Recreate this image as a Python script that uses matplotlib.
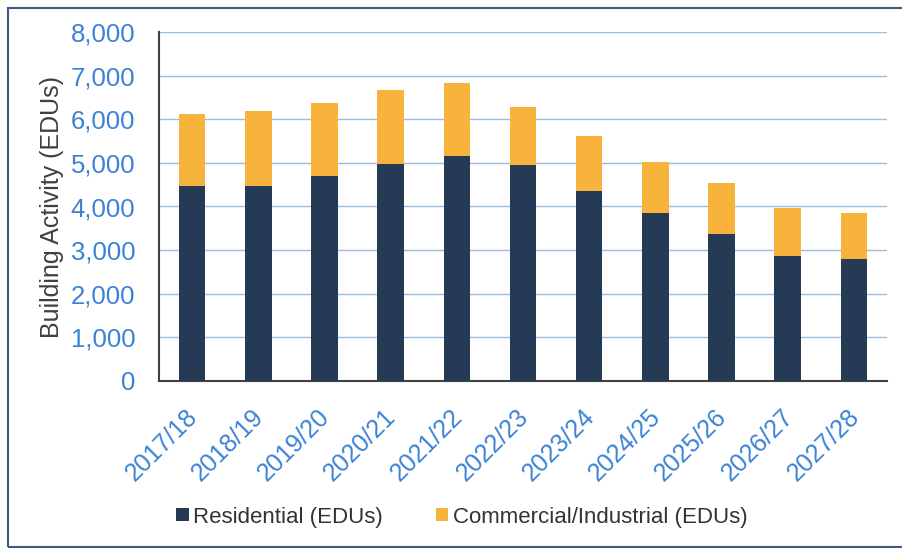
import numpy as np
import matplotlib.pyplot as plt
from matplotlib.patches import Rectangle
from matplotlib.ticker import FuncFormatter
from matplotlib.transforms import ScaledTranslation

plt.rcParams['font.family'] = ['Liberation Sans', 'DejaVu Sans']

# data
years = ['2017/18', '2018/19', '2019/20', '2020/21', '2021/22', '2022/23',
         '2023/24', '2024/25', '2025/26', '2026/27', '2027/28']
residential = [4480, 4460, 4690, 4980, 5150, 4950, 4360, 3850, 3370, 2870, 2790]
totals = [6120, 6190, 6370, 6670, 6830, 6270, 5620, 5020, 4530, 3970, 3860]
commercial = [t - r for t, r in zip(totals, residential)]

navy = '#253a55'
orange = '#f8b33d'
blue = '#3b82d6'

fig = plt.figure(figsize=(9.02, 5.48), dpi=100)
ax = fig.add_axes([159/902, 1 - 381/548, (887-159)/902, (381-32)/548])

x = np.arange(len(years))
ax.bar(x, residential, width=0.4, color=navy, label='Residential (EDUs)', zorder=3)
ax.bar(x, commercial, width=0.4, bottom=residential, color=orange,
       label='Commercial/Industrial (EDUs)', zorder=3)

ax.set_xlim(-0.5, len(years) - 0.5)
ax.set_ylim(0, 8000)
ax.set_yticks(range(0, 8001, 1000))
ax.yaxis.set_major_formatter(FuncFormatter(lambda v, p: f'{int(v):,}'))
ax.grid(axis='y', color='#9bbbe0', linewidth=1.0, zorder=0)

ax.set_xticks(x)
ax.set_xticklabels(years, rotation=45, ha='right', rotation_mode='anchor')
ax.tick_params(axis='both', length=0, labelcolor=blue)
ax.tick_params(axis='y', pad=17, labelsize=18.5)
ax.tick_params(axis='x', pad=17, labelsize=18)
# shift the slanted labels a bit to the left, as in the original
shift = ScaledTranslation(-0.07, 0, fig.dpi_scale_trans)
for lab in ax.get_xticklabels():
    lab.set_transform(lab.get_transform() + shift)

ax.set_ylabel('Building Activity (EDUs)', fontsize=18, color='#404040')
ax.yaxis.set_label_coords(-0.13, 0.5)

for s in ['top', 'right']:
    ax.spines[s].set_visible(False)
ax.spines['left'].set_color('#404040')
ax.spines['bottom'].set_color('#404040')
ax.spines['left'].set_linewidth(1.5)
ax.spines['bottom'].set_linewidth(1.5)

fig.legend(loc='center', bbox_to_anchor=(462/902, 1 - 517/548), ncol=2,
           frameon=False, fontsize=16, handlelength=0.55, handleheight=0.55,
           handletextpad=0.2, columnspacing=2.4, labelcolor='#333333')

# outer frame
fig.patches.append(Rectangle((8/902, 0.002), 0.995, 1 - 8/548 - 0.002,
                             transform=fig.transFigure, fill=False,
                             edgecolor='#3d5a80', linewidth=1.5))

fig.savefig('out.png', dpi=100)
